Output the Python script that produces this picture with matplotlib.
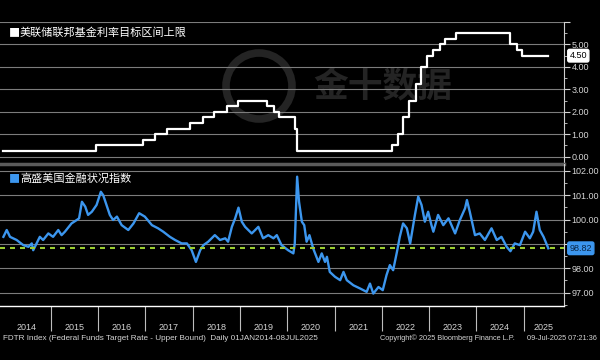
import numpy as np
import pandas as pd
import matplotlib
matplotlib.use('Agg')
import matplotlib.pyplot as plt
from matplotlib import font_manager
from matplotlib.patches import Ellipse

# Fed funds target rate (upper bound): date of each change and new level
fed_dates = ['2014-01-01', '2015-12-17', '2016-12-15', '2017-03-16', '2017-06-15',
             '2017-12-14', '2018-03-22', '2018-06-14', '2018-09-27', '2018-12-20',
             '2019-08-01', '2019-09-19', '2019-10-31', '2020-03-04', '2020-03-16',
             '2022-03-17', '2022-05-05', '2022-06-16', '2022-07-28', '2022-09-22',
             '2022-11-03', '2022-12-15', '2023-02-02', '2023-03-23', '2023-05-04',
             '2023-07-27', '2024-09-19', '2024-11-08', '2024-12-19', '2025-07-08']
fed_rate = [0.25, 0.50, 0.75, 1.00, 1.25, 1.50, 1.75, 2.00, 2.25, 2.50,
            2.25, 2.00, 1.75, 1.25, 0.25, 0.50, 1.00, 1.75, 2.50, 3.25,
            4.00, 4.50, 4.75, 5.00, 5.25, 5.50, 5.00, 4.75, 4.50, 4.50]

# Goldman Sachs US financial conditions index (decimal years)
fci_t = [2014.00, 2014.07, 2014.14, 2014.28, 2014.42, 2014.53, 2014.60, 2014.63, 2014.70, 2014.77,
         2014.84, 2014.95, 2015.05, 2015.16, 2015.23, 2015.30, 2015.44, 2015.55, 2015.60, 2015.66,
         2015.73, 2015.79, 2015.87, 2015.97, 2016.06, 2016.11, 2016.18, 2016.25, 2016.32, 2016.40,
         2016.50, 2016.64, 2016.75, 2016.87, 2016.99, 2017.14, 2017.27, 2017.38, 2017.52, 2017.63,
         2017.77, 2017.88, 2017.98, 2018.07, 2018.16, 2018.23, 2018.33, 2018.47, 2018.58, 2018.69,
         2018.75, 2018.83, 2018.90, 2018.97, 2019.04, 2019.11, 2019.25, 2019.39, 2019.49, 2019.60,
         2019.71, 2019.78, 2019.88, 2020.02, 2020.13, 2020.16, 2020.21, 2020.25, 2020.31, 2020.36,
         2020.41, 2020.47, 2020.55, 2020.66, 2020.73, 2020.80, 2020.84, 2020.90, 2021.01, 2021.12,
         2021.19, 2021.26, 2021.40, 2021.54, 2021.68, 2021.75, 2021.82, 2021.93, 2022.02, 2022.10,
         2022.17, 2022.24, 2022.32, 2022.38, 2022.45, 2022.53, 2022.60, 2022.70, 2022.77, 2022.84,
         2022.91, 2022.98, 2023.05, 2023.09, 2023.19, 2023.30, 2023.41, 2023.55, 2023.65, 2023.76,
         2023.80, 2023.86, 2023.97, 2024.07, 2024.18, 2024.32, 2024.43, 2024.53, 2024.64, 2024.72,
         2024.81, 2024.92, 2025.03, 2025.13, 2025.20, 2025.27, 2025.34, 2025.42, 2025.52]
fci_val = [99.29, 99.57, 99.29, 99.16, 98.95, 98.88, 99.02, 98.74, 99.02, 99.29,
           99.16, 99.43, 99.29, 99.57, 99.36, 99.50, 99.84, 99.98, 100.05, 100.73,
           100.53, 100.19, 100.32, 100.60, 101.14, 101.00, 100.60, 100.19, 99.98, 100.12,
           99.77, 99.57, 99.84, 100.26, 100.12, 99.77, 99.64, 99.50, 99.29, 99.16,
           99.02, 99.02, 98.74, 98.26, 98.74, 98.95, 99.09, 99.36, 99.16, 99.23,
           99.09, 99.70, 100.05, 100.49, 99.91, 99.70, 99.43, 99.70, 99.23, 99.36,
           99.23, 99.36, 98.95, 98.74, 98.61, 99.02, 101.76, 100.73, 99.91, 99.77,
           99.09, 99.36, 98.81, 98.26, 98.61, 98.26, 98.47, 97.85, 97.65, 97.51,
           97.85, 97.51, 97.30, 97.17, 97.03, 97.37, 96.96, 97.23, 97.10, 97.72,
           98.13, 97.92, 98.67, 99.29, 99.84, 99.64, 99.02, 100.19, 100.94, 100.60,
           99.91, 100.32, 99.77, 99.50, 100.19, 99.77, 100.05, 99.43, 99.98, 100.46,
           100.80, 100.32, 99.36, 99.43, 99.16, 99.64, 99.16, 99.29, 98.88, 98.70,
           99.02, 98.95, 99.50, 99.23, 99.50, 100.32, 99.57, 99.29, 98.82]

years = list(range(2014, 2026))
fed_label = '美联储联邦基金利率目标区间上限'
fci_label = '高盛美国金融状况指数'
fed_last = 4.50
fci_last = 98.82

# fonts
names = {f.name for f in font_manager.fontManager.ttflist}
if 'Liberation Sans Narrow' in names:
    num_font, fs_tick, fs_note, fs_src = 'Liberation Sans Narrow', 7.5, 6, 6.6
else:
    num_font, fs_tick, fs_note, fs_src = 'Liberation Sans', 6.5, 5.3, 5.9
cjk = ['Noto Sans CJK SC', 'DejaVu Sans']

# dates -> decimal years
d = pd.to_datetime(fed_dates)
fed_t = d.year + (d.dayofyear - 1) / np.where(d.is_leap_year, 366, 365)

blue = '#3c96ee'
grid_c = '#7c7c7c'
txt_c = '#d4d4d4'
x0, x1 = 2013.928, 2025.852

fig = plt.figure(figsize=(6, 3.6), dpi=100, facecolor='black')

# watermark behind everything
fig.add_artist(Ellipse((259 / 600, 1 - 86 / 360), 66 / 600, 66 / 360, fill=False,
                       edgecolor='#242424', lw=5.5, zorder=-5))
fig.text(313 / 600, 1 - 86 / 360, '金十数据', fontsize=25, fontweight='bold', color='#242424',
         family=cjk, va='center', ha='left', zorder=-5)

ax1 = fig.add_axes([0, 0.5444, 0.94, 0.3944])
ax2 = fig.add_axes([0, 0.15, 0.94, 0.3944])

for ax in (ax1, ax2):
    ax.set_facecolor('none')
    ax.set_xlim(x0, x1)
    ax.yaxis.tick_right()
    ax.spines['left'].set_visible(False)
    ax.spines['right'].set_color('#cfcfcf')
    ax.spines['right'].set_linewidth(0.8)
    ax.grid(axis='y', color=grid_c, lw=0.8)
    ax.tick_params(axis='y', which='major', colors=txt_c, labelsize=fs_tick, length=4,
                   width=0.8, pad=1.5)
    ax.tick_params(axis='y', which='minor', colors='#cfcfcf', length=2, width=0.6)

# top panel: fed funds
ax1.step(fed_t, fed_rate, where='post', color='white', lw=1.6, zorder=3)
ax1.set_ylim(-0.33, 6.0)
ax1.set_yticks(range(0, 7))
ax1.set_yticklabels(['%.2f' % v for v in range(0, 6)] + [''], family=num_font)
ax1.set_yticks(np.arange(0.5, 6, 1.0), minor=True)
ax1.tick_params(axis='x', which='both', bottom=False, labelbottom=False)
ax1.spines['top'].set_visible(False)
ax1.spines['bottom'].set_color('#5a5a5a')
ax1.spines['bottom'].set_linewidth(2.5)

# bottom panel: financial conditions
ax2.plot(fci_t, fci_val, color=blue, lw=1.7, zorder=3)
ax2.axhline(fci_last, color='#9acd32', lw=1.5, ls=(0, (2.4, 2.4)), zorder=4)
ax2.set_ylim(96.45, 102.28)
ax2.set_yticks(range(97, 103))
ax2.set_yticklabels(['%.2f' % v if v != 99 else '' for v in range(97, 103)], family=num_font)
ax2.set_yticks(np.arange(96.5, 102.5, 1.0), minor=True)
ax2.spines['top'].set_visible(False)
ax2.spines['bottom'].set_color('white')
ax2.spines['bottom'].set_linewidth(1.0)

# year separators as long ticks, labels centred within each year
ax2.set_xticks(years[1:])
ax2.set_xticklabels([])
ax2.tick_params(axis='x', which='major', direction='out', length=18, width=0.8, colors='#bdbdbd')
mids = [y + 0.5 for y in years[:-1]] + [(years[-1] + x1) / 2]
ax2.set_xticks(mids, minor=True)
ax2.set_xticklabels([str(y) for y in years], minor=True, family=num_font)
ax2.tick_params(axis='x', which='minor', length=0, pad=12, labelsize=fs_tick, colors=txt_c)

# last value badges on the right axis
ax1.annotate('%.2f' % fed_last, xy=(1, fed_last), xycoords=('axes fraction', 'data'),
             xytext=(4, 0), textcoords='offset points', ha='left', va='center',
             fontsize=fs_tick, family=num_font, color='black',
             bbox=dict(boxstyle='round,pad=0.2', fc='white', ec='white'), annotation_clip=False)
ax2.annotate('%.2f' % fci_last, xy=(1, fci_last), xycoords=('axes fraction', 'data'),
             xytext=(4, 0), textcoords='offset points', ha='left', va='center',
             fontsize=fs_tick, family=num_font, color='#0b2747',
             bbox=dict(boxstyle='round,pad=0.2', fc=blue, ec=blue), annotation_clip=False)

# legend labels
fig.text(9 / 600, 1 - 33 / 360, '■', color='white', fontsize=8, family=cjk, va='center')
fig.text(20 / 600, 1 - 33 / 360, fed_label, color='white', fontsize=8, family=cjk, va='center')
fig.text(9 / 600, 1 - 179 / 360, '■', color=blue, fontsize=8, family=cjk, va='center')
fig.text(20 / 600, 1 - 179 / 360, fci_label, color='white', fontsize=8, family=cjk, va='center')

# footer
fy = 1 - 338 / 360
fig.text(3 / 600, fy, 'FDTR Index (Federal Funds Target Rate - Upper Bound)  Daily 01JAN2014-08JUL2025',
         color=txt_c, fontsize=fs_src, family=num_font, va='center')
fig.text(380 / 600, fy, 'Copyright\u00a9 2025 Bloomberg Finance L.P.',
         color=txt_c, fontsize=fs_note, family=num_font, va='center')
fig.text(597 / 600, fy, '09-Jul-2025 07:21:36',
         color=txt_c, fontsize=fs_note, family=num_font, va='center', ha='right')

fig.savefig('out.png', dpi=100, facecolor='black')
